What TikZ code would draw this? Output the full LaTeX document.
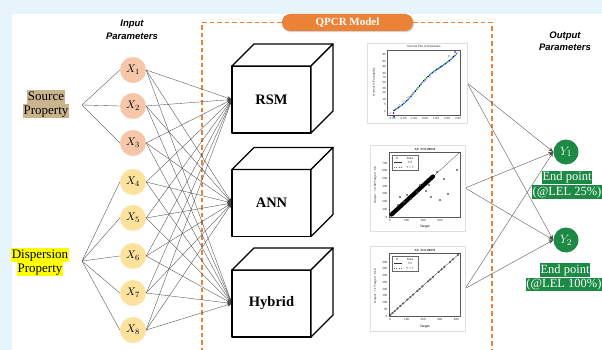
\documentclass[tikz,border=0pt]{standalone}
\usepackage{fontspec}
\setmainfont{Liberation Serif}
\setsansfont{Liberation Sans}
\usetikzlibrary{arrows.meta,shadows}
\pgfdeclarelayer{back}
\pgfdeclarelayer{mid}
\pgfsetlayers{back,mid,main}
\definecolor{bgblue}{RGB}{232,244,252}
\definecolor{qorange}{RGB}{234,130,56}
\definecolor{qgreen}{RGB}{28,138,68}
\definecolor{srctan}{RGB}{201,180,142}
\definecolor{hlyellow}{RGB}{255,255,0}
\definecolor{salmon}{RGB}{245,199,168}
\definecolor{lyellow}{RGB}{252,226,156}
\begin{document}
\begin{tikzpicture}[x=1pt,y=-1pt,
  inp/.style={circle, minimum size=26pt, inner sep=0pt, font=\fontsize{11}{13}\selectfont},
  link/.style={draw=black!70, line width=0.35pt},
  arr/.style={link, -{Stealth[length=5pt,width=3.6pt]}},
  cubeface/.style={draw=black, line width=1.3pt, fill=white, line join=round},
  cubefront/.style={cubeface, minimum width=79pt, minimum height=67pt, inner sep=0pt, outer sep=0pt, font=\bfseries\fontsize{14.5}{16}\selectfont},
  plotimg/.style={draw=black!12, fill=white, line width=0.4pt, inner sep=0pt},
  tiny/.style={font=\sffamily\fontsize{3}{3.5}\selectfont, inner sep=0.4pt, text=black!80},
  frame/.style={draw=black!65, line width=0.3pt},
  outn/.style={circle, fill=qgreen, minimum size=25pt, inner sep=0pt, text=white, font=\fontsize{12.5}{14}\selectfont},
  hl/.style={inner sep=0.8pt, text height=9.5pt, text depth=3pt, font=\fontsize{13}{15}\selectfont},
  endlab/.style={fill=qgreen, text=white, inner sep=0.8pt, text height=9.3pt, text depth=3pt, font=\fontsize{12.5}{14}\selectfont},
  head/.style={align=center, font=\sffamily\bfseries\itshape\fontsize{9.5}{12.5}\selectfont}
]
\useasboundingbox (0,0) rectangle (602,350);
\begin{pgfonlayer}{back}
\fill[bgblue] (0,0) rectangle (602,350);
\fill[white] (12,14) rectangle (602,350);
\end{pgfonlayer}

% headings
\node[head] (inhead) at (132,30) {Input\\Parameters};
\node[head] (outhead) at (565,41) {Output\\Parameters};

% QPCR tab and dashed frame
\node[fill=qorange, rounded corners=8pt, minimum width=131pt, minimum height=17pt, inner sep=0pt,
  text=white, font=\bfseries\fontsize{11}{13}\selectfont,
  drop shadow={opacity=0.35, shadow xshift=1pt, shadow yshift=-1.2pt}] (qpcr) at (347.5,22.5) {QPCR Model};
\begin{pgfonlayer}{back}
\draw[qorange, dash pattern=on 4.5pt off 3pt, line width=1.1pt] (qpcr.west) -| (202,352);
\draw[qorange, dash pattern=on 4.5pt off 3pt, line width=1.1pt] (qpcr.east) -| (492,352);
\end{pgfonlayer}

% left labels
\node[hl, fill=srctan] (src1) at (46,97) {Source};
\node[hl, fill=srctan] (src2) at (46,111) {Property};
\node[hl, fill=hlyellow] (dsp1) at (40,255) {Dispersion};
\node[hl, fill=hlyellow] (dsp2) at (40,269) {Property};
\coordinate (srcpt) at (82,105);
\coordinate (dsppt) at (82,261);

% input nodes
\foreach \i/\y in {1/70,2/106,3/143}
  \node[inp, fill=salmon] (x\i) at (133,\y) {$X_{\i}$};
\foreach \i/\y in {4/182,5/218,6/256,7/293,8/330}
  \node[inp, fill=lyellow] (x\i) at (133,\y) {$X_{\i}$};

% cubes
\foreach \n/\t/\y in {rsm/RSM/99.5, ann/ANN/203, hyb/Hybrid/303.5} {
  \node[cubefront] (\n) at (271.5,\y) {\t};
  \draw[cubeface] (\n.north west) -- ++(22,-22) -- ++(79,0) -- (\n.north east) -- cycle;
  \draw[cubeface] (\n.north east) -- ++(22,-22) -- ++(0,67) -- (\n.south east) -- cycle;
}

% ---------- RSM plot ----------
\node[plotimg, minimum width=100pt, minimum height=80pt] (plotR) at (417,83) {};
\draw[frame] (387,50) rectangle (460,115);
\node[tiny] (rt) at (424,46.5) {Normal Plot of Residuals};
\node[tiny, rotate=90] (ryl) at (374,82) {Normal \% Probability};
\foreach \k/\v/\yy in {1/1/111,2/5/104,3/10/99,4/20/92,5/30/88,6/50/82.5,7/70/77,8/80/73,9/90/66,10/95/61,11/99/54}
  \node[tiny, anchor=east] (ry\k) at (386.5,\yy) {\v};
\foreach \k/\v/\xx in {1/-3.00/392,2/-2.00/403,3/-1.00/413.5,4/0.00/425,5/1.00/436,6/2.00/447,7/3.00/458}
  \node[tiny] (rx\k) at (\xx,118.5) {\v};
\draw[red!55, dashed, line width=0.3pt] (389,114) -- (459,51);
\foreach \i in {0,3,...,42} {
  \pgfmathsetmacro{\px}{394+\i*1.42}
  \pgfmathsetmacro{\py}{110.5-\i*1.33+2.2*sin(\i*11)}
  \fill[blue!85!black] (\px,\py) circle (0.95);
}
\foreach \i in {1,4,...,43} {
  \pgfmathsetmacro{\px}{394+\i*1.42}
  \pgfmathsetmacro{\py}{110.5-\i*1.33+2.2*sin(\i*11)}
  \fill[green!60!black] (\px,\py) circle (0.95);
}
\foreach \i in {2,5,...,44} {
  \pgfmathsetmacro{\px}{394+\i*1.42}
  \pgfmathsetmacro{\py}{110.5-\i*1.33+2.2*sin(\i*11)}
  \fill[cyan!70!blue] (\px,\py) circle (0.95);
}
\fill[blue!85!black] (393.5,113) circle (0.9) (394,116.5) circle (0.9) (455,52) circle (0.9);
\draw[black!50, line width=0.2pt] (449,56) circle (1.1);

% ---------- ANN plot ----------
\node[plotimg, minimum width=95pt, minimum height=86pt] (plotA) at (417.5,188) {};
\draw[frame] (389,152) rectangle (460,217);
\node[tiny, font=\sffamily\bfseries\fontsize{3}{3.5}\selectfont] (at) at (425,149.3) {All: R=0.99834};
\node[tiny, rotate=90] (ayl) at (375.5,185) {Output \textasciitilde= 0.99*Target + 0.6};
\foreach \v in {0,100,...,700}
  \node[tiny, anchor=east] (ay\v) at (388,217-\v*0.0771) {\v};
\foreach \v in {0,200,400,600}
  \node[tiny] (ax\v) at (390+\v*0.0833,220.5) {\v};
\node[tiny, font=\sffamily\bfseries\fontsize{3.2}{3.5}\selectfont] (axl) at (425,226.5) {Target};
\draw[black!70, line width=0.3pt] (389,217) -- (460,152);
\draw[black, line width=4.2pt, line cap=round] (391.5,214.5) -- (433,176.5);
\foreach \px/\py in {420/185,426/191,431/197,440/200,448/194,400/197,404/202,411/199,437/172,457/170,444/179,417/192,429/185,398/205,407/195}
  \draw[black!70, line width=0.25pt] (\px,\py) circle (0.9);
\draw[black!60, line width=0.25pt, fill=white] (392,155) rectangle (418,170);
\draw[black!70, line width=0.25pt] (397,158) circle (0.8);
\draw[black!80, line width=0.35pt] (394,162.5) -- (402,162.5);
\draw[black!60, line width=0.25pt, dotted] (394,167) -- (402,167);
\node[tiny] (al1) at (410,158) {Data};
\node[tiny] (al2) at (410,162.5) {Fit};
\node[tiny] (al3) at (410,167) {Y = T};

% ---------- Hybrid plot ----------
\node[plotimg, minimum width=95pt, minimum height=85pt] (plotH) at (417.5,288.5) {};
\draw[frame] (389,253) rectangle (460,316);
\node[tiny, font=\sffamily\bfseries\fontsize{3}{3.5}\selectfont] (ht) at (425,250.3) {All: R=0.99976};
\node[tiny, rotate=90] (hyl) at (375.5,286) {Output \textasciitilde= 1*Target + 0.18};
\foreach \v in {0,50,...,400}
  \node[tiny, anchor=east] (hy\v) at (388,316-\v*0.135) {\v};
\foreach \v in {0,100,200,300,400}
  \node[tiny] (hx\v) at (390+\v*0.166,319.5) {\v};
\node[tiny, font=\sffamily\bfseries\fontsize{3.2}{3.5}\selectfont] (hxl) at (425,326.5) {Target};
\draw[black!75, line width=0.35pt] (389,316) -- (460,253);
\foreach \t in {0.02,0.05,0.08,0.12,0.16,0.2,0.26,0.3,0.34,0.4,0.43,0.47,0.55,0.58,0.62,0.7,0.74,0.78,0.86,0.9,0.97} {
  \draw[black!80, line width=0.3pt] (389+71*\t,316-63*\t) circle (0.9);
}
\draw[black!60, line width=0.25pt, fill=white] (392,256) rectangle (418,271);
\draw[black!70, line width=0.25pt] (397,259) circle (0.8);
\draw[black!80, line width=0.35pt] (394,263.5) -- (402,263.5);
\draw[black!60, line width=0.25pt, dotted] (394,268) -- (402,268);
\node[tiny] (hl1) at (410,259) {Data};
\node[tiny] (hl2) at (410,263.5) {Fit};
\node[tiny] (hl3) at (410,268) {Y = T};

% outputs
\node[outn] (y1) at (566,152) {$Y_1$};
\node[outn] (y2) at (566,240) {$Y_2$};
\node[endlab] (e1a) at (567,177.5) {End point};
\node[endlab] (e1b) at (567,192) {(@LEL 25\%)};
\node[endlab] (e2a) at (565,270) {End point};
\node[endlab] (e2b) at (564,284.5) {(@LEL 100\%)};

% connectors
\begin{pgfonlayer}{mid}
\foreach \i in {1,2,3} \draw[link] (srcpt) -- (x\i.west);
\foreach \i in {4,...,8} \draw[link] (dsppt) -- (x\i.west);
\foreach \i in {1,...,8}
  \foreach \c in {rsm,ann,hyb}
    \draw[arr] (x\i.east) -- (\c.west);
\foreach \p in {plotR,plotA,plotH}
  \foreach \q in {y1,y2}
    \draw[arr] (\p.east) -- (\q.west);
\end{pgfonlayer}
\end{tikzpicture}
\end{document}
